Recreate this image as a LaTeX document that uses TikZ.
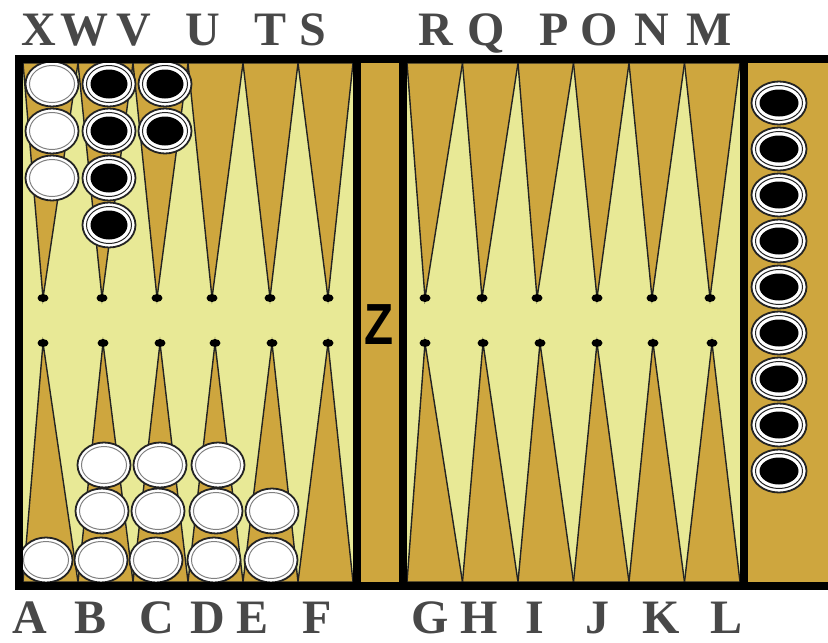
\documentclass[tikz,border=0pt]{standalone}
\usepackage{fontspec}
\setmainfont{Liberation Serif}
\newfontfamily\zfont{Liberation Sans}
\definecolor{boardtan}{RGB}{206,166,62}
\definecolor{boardpale}{RGB}{232,233,150}
\definecolor{sketch}{RGB}{35,35,35}
\definecolor{lblgray}{RGB}{72,72,72}
\newcommand\wchk[2]{%
  \filldraw[fill=white,draw=sketch,line width=1.8pt] (#1,#2) ellipse [x radius=26.5,y radius=22.5];
  \draw[gray,line width=1pt] (#1,#2) ellipse [x radius=22.5,y radius=18.5];}
\newcommand\bchk[2]{%
  \filldraw[fill=white,draw=sketch,line width=1.8pt] (#1,#2) ellipse [x radius=26.5,y radius=22.5];
  \draw[sketch,line width=1pt] (#1,#2) ellipse [x radius=22.5,y radius=18.5];
  \fill[black] (#1,#2) ellipse [x radius=18.5,y radius=14.5];}
\newcommand\tchk[2]{%
  \filldraw[fill=white,draw=sketch,line width=1.8pt] (#1,#2) ellipse [x radius=27.5,y radius=21.5];
  \draw[sketch,line width=1pt] (#1,#2) ellipse [x radius=23.5,y radius=17.5];
  \fill[black] (#1,#2) ellipse [x radius=19.5,y radius=13.5];}
\tikzset{
  pointtri/.style={fill=boardtan,draw=sketch,line width=1.4pt,line join=miter},
  tipdot/.style={fill=black},
  border/.style={line width=8.5pt,black},
  lbl/.style={anchor=base,inner sep=0pt,text=lblgray,font=\fontsize{48}{48}\selectfont\bfseries},
  zlbl/.style={inner sep=0pt,text=black,xscale=0.82,font=\zfont\bfseries\fontsize{58}{58}\selectfont}
}
\begin{document}
\begin{tikzpicture}[x=1pt,y=-1pt]
\useasboundingbox (0,0) rectangle (828,643);
% fields
\fill[boardpale] (23,63) rectangle (353,582);
\fill[boardpale] (407,63) rectangle (740,582);
\fill[boardtan] (361,63) rectangle (399,582);
\fill[boardtan] (748,63) rectangle (828,582);
% left quarter points
\foreach \i/\t/\u in {0/43/43,1/102/103,2/157/160,3/212/215,4/270/272,5/328/328}{
  \pgfmathsetmacro\a{23+55*\i}
  \pgfmathsetmacro\b{23+55*(\i+1)}
  \filldraw[pointtri] (\a,63) -- (\t,298) -- (\b,63) -- cycle;
  \filldraw[pointtri] (\a,582) -- (\u,343) -- (\b,582) -- cycle;
  \fill[tipdot] (\t,298) ellipse [x radius=5.5,y radius=4];
  \fill[tipdot] (\u,343) ellipse [x radius=5.5,y radius=4];
}
% right quarter points
\foreach \i/\t/\u in {0/425/425,1/482/483,2/537/540,3/597/597,4/652/653,5/710/712}{
  \pgfmathsetmacro\a{407+55.5*\i}
  \pgfmathsetmacro\b{407+55.5*(\i+1)}
  \filldraw[pointtri] (\a,63) -- (\t,298) -- (\b,63) -- cycle;
  \filldraw[pointtri] (\a,582) -- (\u,343) -- (\b,582) -- cycle;
  \fill[tipdot] (\t,298) ellipse [x radius=5.5,y radius=4];
  \fill[tipdot] (\u,343) ellipse [x radius=5.5,y radius=4];
}
% top-left checkers
\wchk{52}{84}\wchk{52}{131}\wchk{52}{178}
\bchk{109}{84}\bchk{109}{131}\bchk{109}{178}\bchk{109}{225}
\bchk{165}{84}\bchk{165}{131}
% bottom-left white checkers
\wchk{104}{465}\wchk{160}{465}\wchk{218}{465}
\wchk{102}{511}\wchk{158}{511}\wchk{216}{511}\wchk{272}{511}
\wchk{46}{560}\wchk{101}{560}\wchk{156}{560}\wchk{214}{560}\wchk{271}{560}
% borne-off black checkers
\foreach \yy in {103,149,195,241,287,333,379,425,471}{\tchk{779}{\yy}}
% borders
\draw[border] (15,59) -- (828,59);
\draw[border] (15,586) -- (828,586);
\draw[border] (19,55) -- (19,590);
\draw[border] (357,55) -- (357,590);
\draw[border] (403,55) -- (403,590);
\draw[border] (744,55) -- (744,590);
% bar label
\node[zlbl] (z) at (379,325) {Z};
% top labels
\node[lbl] (lX) at (39,45) {X};
\node[lbl] (lW) at (84,45) {W};
\node[lbl] (lV) at (134,45) {V};
\node[lbl] (lU) at (203,45) {U};
\node[lbl] (lT) at (271,45) {T};
\node[lbl] (lS) at (313,45) {S};
\node[lbl] (lR) at (436,45) {R};
\node[lbl] (lQ) at (486,45) {Q};
\node[lbl] (lP) at (554,45) {P};
\node[lbl] (lO) at (599,45) {O};
\node[lbl] (lN) at (652,45) {N};
\node[lbl] (lM) at (709,45) {M};
% bottom labels
\node[lbl] (lA) at (30,633) {A};
\node[lbl] (lB) at (91,633) {B};
\node[lbl] (lC) at (157,633) {C};
\node[lbl] (lD) at (208,633) {D};
\node[lbl] (lE) at (253,633) {E};
\node[lbl] (lF) at (317,633) {F};
\node[lbl] (lG) at (430,633) {G};
\node[lbl] (lH) at (479,633) {H};
\node[lbl] (lI) at (535,633) {I};
\node[lbl] (lJ) at (597,633) {J};
\node[lbl] (lK) at (661,633) {K};
\node[lbl] (lL) at (727,633) {L};
\end{tikzpicture}
\end{document}
